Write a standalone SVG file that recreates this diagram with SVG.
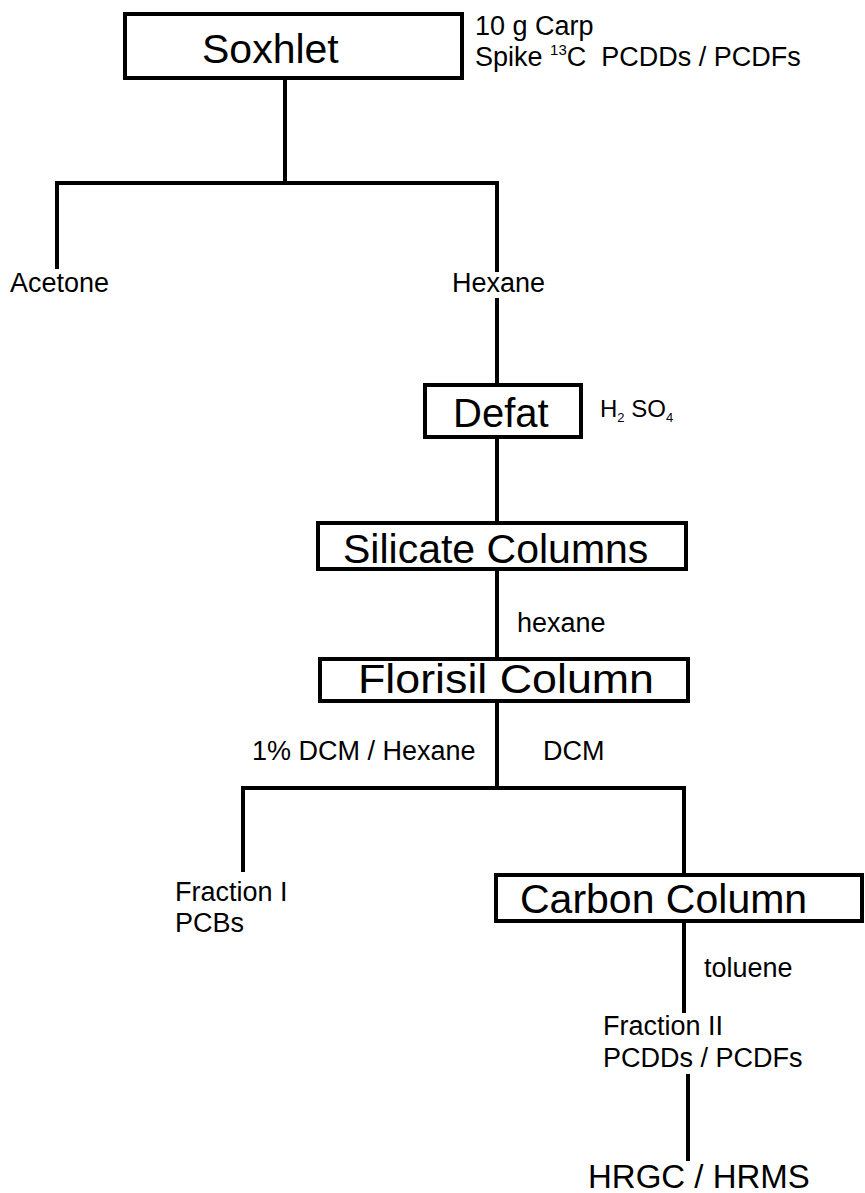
<svg xmlns="http://www.w3.org/2000/svg" width="865" height="1193" viewBox="0 0 865 1193">
<style>
.box{fill:#fff;stroke:#000;stroke-width:4}
.ln{fill:none;stroke:#000;stroke-width:4;stroke-linecap:square}
.big{font-family:"Liberation Sans",Arial,sans-serif;font-size:41px;fill:#000}
.sm{font-family:"Liberation Sans",Arial,sans-serif;font-size:27px;fill:#000}
</style>
<rect width="865" height="1193" fill="#fff"/>
<g id="connectors">
<path class="ln" d="M285,78 V183 M57,267 V183 H497 V270"/>
<path class="ln" d="M497,300 V385"/>
<path class="ln" d="M497,437 V523"/>
<path class="ln" d="M497,569 V659"/>
<path class="ln" d="M497,701 V788 M243,870 V788 H684 V875"/>
<path class="ln" d="M684,921 V1011"/>
<path class="ln" d="M688,1076 V1159"/>
</g>
<g id="soxhlet">
<rect class="box" x="125" y="14" width="337" height="64"/>
<text class="big" x="202" y="63">Soxhlet</text>
</g>
<g id="soxhlet-note">
<text class="sm" x="475" y="35">10 g Carp</text>
<text class="sm" x="475" y="66">Spike <tspan font-size="15" dy="-11">13</tspan><tspan dy="11">C&#160; PCDDs / PCDFs</tspan></text>
</g>
<g id="acetone"><text class="sm" x="10" y="292">Acetone</text></g>
<g id="hexane"><text class="sm" x="452" y="292">Hexane</text></g>
<g id="defat">
<rect class="box" x="425" y="385" width="156" height="52"/>
<text class="big" x="453" y="427" style="font-size:40px">Defat</text>
</g>
<g id="h2so4"><text class="sm" x="600" y="417" style="font-size:24px">H<tspan font-size="13" dy="5">2</tspan><tspan dy="-5"> SO</tspan><tspan font-size="13" dy="5">4</tspan></text></g>
<g id="silicate">
<rect class="box" x="318" y="523" width="368" height="46"/>
<text class="big" x="343" y="563">Silicate Columns</text>
</g>
<g id="hexane-label"><text class="sm" x="517" y="632">hexane</text></g>
<g id="florisil">
<rect class="box" x="320" y="659" width="368" height="42"/>
<text class="big" x="358" y="693" textLength="296" lengthAdjust="spacingAndGlyphs">Florisil Column</text>
</g>
<g id="dcm-hexane"><text class="sm" x="252" y="760">1% DCM / Hexane</text></g>
<g id="dcm"><text class="sm" x="543" y="760">DCM</text></g>
<g id="fraction1">
<text class="sm" x="175" y="901">Fraction I</text>
<text class="sm" x="175" y="932">PCBs</text>
</g>
<g id="carbon">
<rect class="box" x="496" y="875" width="366" height="46"/>
<text class="big" x="520" y="913">Carbon Column</text>
</g>
<g id="toluene"><text class="sm" x="704" y="977">toluene</text></g>
<g id="fraction2">
<text class="sm" x="603" y="1035">Fraction II</text>
<text class="sm" x="603" y="1067">PCDDs / PCDFs</text>
</g>
<g id="hrgc"><text class="big" x="588" y="1188" style="font-size:33px">HRGC / HRMS</text></g>
</svg>
